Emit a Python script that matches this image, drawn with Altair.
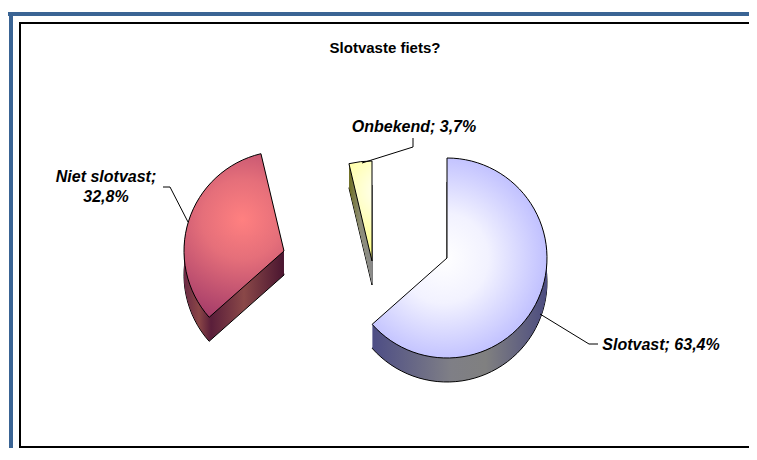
import altair as alt
import pandas as pd

# ---- data ----
titel = "Slotvaste fiets?"
categorieen = ["Slotvast", "Niet slotvast", "Onbekend"]
percentages = [63.4, 32.8, 3.7]
volgorde = [0, 1, 2]

df = pd.DataFrame({"categorie": categorieen, "pct": percentages, "volgorde": volgorde})
one = pd.DataFrame({"titel": [titel]})

FONT = "Liberation Sans"
R = 100
DEPTH = 24

base = (
    alt.Chart(df)
    .transform_window(cum="sum(pct)", sort=[alt.SortField("volgorde")], frame=[None, 0])
    .transform_joinaggregate(totaal="sum(pct)")
    .transform_calculate(
        start="(datum.cum - datum.pct) / datum.totaal",
        eind="datum.cum / datum.totaal",
        label="datum.categorie + '; ' + replace(format(datum.pct, '.1f'), '.', ',') + '%'",
        label2="datum.categorie + ';\\n' + replace(format(datum.pct, '.1f'), '.', ',') + '%'",
    )
)

theta = alt.Theta("start:Q", scale=alt.Scale(domain=[0, 1], range=[0, 6.283185307179586]))
theta2 = alt.Theta2("eind:Q")


def stop(o, c):
    return alt.GradientStop(offset=o, color=c)


def radial(stops, cx, cy, r):
    return alt.Gradient(gradient="radial", stops=stops, x1=cx, y1=cy, x2=cx, y2=cy, r1=0, r2=r)


def linear(stops):
    return alt.Gradient(gradient="linear", stops=stops, x1=0, y1=0, x2=1, y2=0)


stijl = {
    "Slotvast": dict(
        cx=439, cy=250,
        top=radial([stop(0, "#FFFFFF"), stop(0.3, "#F2F2FF"), stop(1, "#9999FF")], 0.42, 0.5, 0.75),
        side=linear([stop(0, "#4D4D85"), stop(0.45, "#7F7F86"), stop(0.65, "#808080"), stop(1, "#4C4C80")]),
    ),
    "Niet slotvast": dict(
        cx=276, cy=243,
        top=radial([stop(0, "#FF8080"), stop(0.35, "#E56F7A"), stop(1, "#993366")], 0.55, 0.4, 0.7),
        side=linear([stop(0, "#6A2A45"), stop(0.15, "#8A4646"), stop(0.27, "#5A1E3A"),
                     stop(0.6, "#8A4848"), stop(1, "#4A1530")]),
    ),
    "Onbekend": dict(
        cx=364, cy=253,
        top=radial([stop(0, "#FFFFFF"), stop(1, "#FFFF66")], 0.75, 0.3, 0.8),
        side=linear([stop(0, "#6E6E22"), stop(0.5, "#8E8E78"), stop(1, "#8A8A8A")]),
    ),
}

layers = []

# frame decoration
W, H = 741, 440
frame_rules = [
    dict(x=0, x2=W, y=6, y2=6, color="#3A6494", w=4),
    dict(x=3, x2=3, y=4, y2=H, color="#3A6494", w=4),
    dict(x=11, x2=W, y=15, y2=15, color="#000000", w=2),
    dict(x=12, x2=12, y=14, y2=H - 1, color="#000000", w=2),
    dict(x=11, x2=W, y=H - 1, y2=H - 1, color="#000000", w=2),
]
for fr in frame_rules:
    layers.append(
        alt.Chart(one).mark_rule(color=fr["color"], strokeWidth=fr["w"]).encode(
            x=alt.value(fr["x"]), x2=alt.value(fr["x2"]), y=alt.value(fr["y"]), y2=alt.value(fr["y2"])
        )
    )

# title
layers.append(
    alt.Chart(one).mark_text(font=FONT, fontSize=15, fontWeight="bold", color="black",
                             align="center", baseline="alphabetic").encode(
        x=alt.value(377), y=alt.value(45), text="titel:N"
    )
)

# pie slices (3D look: stacked copies beneath the top face form the side)
for cat in categorieen:
    s = stijl[cat]
    sel = base.transform_filter(alt.datum.categorie == cat)
    layers.append(
        sel.mark_arc(radius=R, fill=s["side"], stroke="black", strokeWidth=1).encode(
            theta=theta, theta2=theta2, x=alt.value(s["cx"]), y=alt.value(s["cy"] + DEPTH)
        )
    )
    for k in range(DEPTH - 1, 0, -1):
        layers.append(
            sel.mark_arc(radius=R, fill=s["side"], strokeWidth=0).encode(
                theta=theta, theta2=theta2, x=alt.value(s["cx"]), y=alt.value(s["cy"] + k)
            )
        )
    layers.append(
        sel.mark_arc(radius=R, fill=s["top"], stroke="black", strokeWidth=1).encode(
            theta=theta, theta2=theta2, x=alt.value(s["cx"]), y=alt.value(s["cy"])
        )
    )

# leader lines
leaders = [
    (405, 130, 405, 139), (405, 139, 354, 155),
    (155, 179, 162, 179), (162, 179, 180, 214),
    (590, 336, 581, 336), (581, 336, 532, 306),
]
for (a, b, c, d) in leaders:
    layers.append(
        alt.Chart(one).mark_rule(color="black", strokeWidth=1).encode(
            x=alt.value(a), y=alt.value(b), x2=alt.value(c), y2=alt.value(d)
        )
    )

# labels
label_pos = {
    "Slotvast": (653, 342, "label"),
    "Niet slotvast": (98, 174, "label2"),
    "Onbekend": (406, 124, "label"),
}
for cat in categorieen:
    lx, ly, fld = label_pos[cat]
    layers.append(
        base.transform_filter(alt.datum.categorie == cat)
        .mark_text(font=FONT, fontSize=16, fontWeight="bold", fontStyle="italic", color="black",
                   align="center", baseline="alphabetic", lineBreak="\n", lineHeight=20)
        .encode(x=alt.value(lx), y=alt.value(ly), text=alt.Text(f"{fld}:N"))
    )

chart = (
    alt.layer(*layers)
    .properties(width=W, height=H, autosize=alt.AutoSizeParams(type="none"), padding=0,
                background="white")
    .configure_view(stroke=None)
)

chart.save("out.html", embed_options={"renderer": "svg", "actions": False})
